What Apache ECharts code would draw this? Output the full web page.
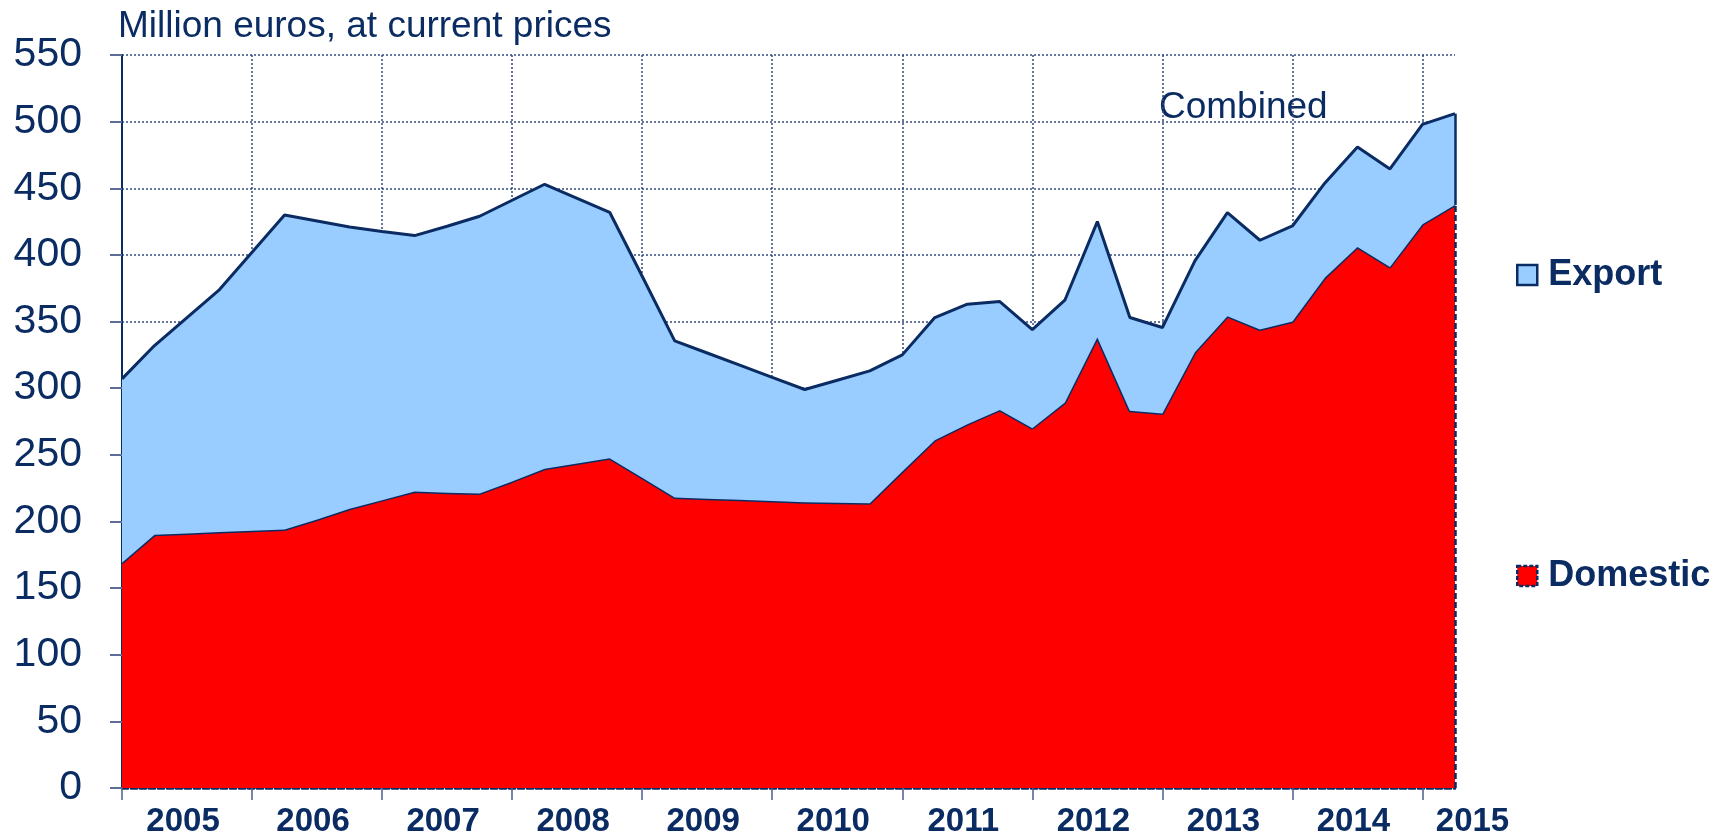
<!DOCTYPE html>
<html>
<head>
<meta charset="utf-8">
<script src="https://cdn.jsdelivr.net/npm/echarts@6/dist/echarts.min.js"></script>
<style>
  html, body { margin: 0; padding: 0; background: #ffffff; }
  #chart { width: 1727px; height: 836px; }
</style>
</head>
<body>
<div id="chart"></div>
<script>
const chart = echarts.init(document.getElementById('chart'));

// years shown on the axis, quarterly points from 2005 Q1 to 2015 Q2
const years = ['2005', '2006', '2007', '2008', '2009', '2010', '2011', '2012', '2013', '2014', '2015'];
const quarters = ['Q1', 'Q2', 'Q3', 'Q4'];

const domestic = [169, 190, 191, 192, 193, 194, 201.5, 209.5, 216, 222.5,
  221.5, 221, 230, 239.5, 243.5, 247.5, 232.8, 218, 217.1, 216.2,
  215.4, 214.5, 214.1, 213.7, 237.4, 261, 273, 283.7, 270, 289.2,
  338, 283, 281, 327, 354, 344, 350, 383, 406, 391,
  423, 437.5];

const exportValues = [138, 142, 162, 182, 209, 236, 224, 211.5, 201.5, 192,
  200, 208, 211, 213.5, 199, 184.5, 151.2, 117.5, 109.3, 101.1,
  92.7, 84.5, 91.9, 99.3, 87.6, 92, 90, 81.3, 74, 76.8,
  87, 70, 64.5, 68.5, 77.7, 67, 71.7, 71, 75, 73.5,
  75, 68.5];

const categories = [];
years.forEach(function (y) {
  quarters.forEach(function (q) {
    if (categories.length < domestic.length) categories.push(y + ' ' + q);
  });
});

const navy = '#0B2C63';
const font = 'Liberation Sans, Arial, sans-serif';
const lastIdx = categories.length - 1;

const option = {
  animation: false,
  grid: { left: 122, right: 272, top: 55, bottom: 48, outerBoundsMode: 'none' },
  graphic: [
    {
      type: 'text', left: 118, top: 8,
      style: { text: 'Million euros, at current prices', fill: navy, fontSize: 37, fontFamily: font }
    },
    {
      type: 'text', left: 1159, top: 89,
      style: { text: 'Combined', fill: navy, fontSize: 37, fontFamily: font }
    }
  ],
  legend: [
    {
      left: 1511, top: 252, orient: 'vertical', selectedMode: false,
      itemWidth: 20, itemHeight: 20,
      textStyle: { color: navy, fontSize: 36, fontWeight: 'bold', fontFamily: font, padding: [0, 0, 0, 6] },
      data: [{ name: 'Export', icon: 'rect',
        itemStyle: { color: '#99CCFF', borderColor: navy, borderWidth: 2.5 } }]
    },
    {
      left: 1511, top: 553, orient: 'vertical', selectedMode: false,
      itemWidth: 20, itemHeight: 20,
      textStyle: { color: navy, fontSize: 36, fontWeight: 'bold', fontFamily: font, padding: [0, 0, 0, 6] },
      data: [{ name: 'Domestic', icon: 'rect',
        itemStyle: { color: '#FF0000', borderColor: navy, borderWidth: 2.5, borderType: [4, 2] } }]
    }
  ],
  xAxis: {
    type: 'category',
    data: categories,
    boundaryGap: false,
    axisLine: { lineStyle: { color: navy, width: 2.5, type: [6, 3] } },
    axisTick: {
      length: 12,
      interval: function (i) { return i % 4 === 0; },
      lineStyle: { color: '#4A5F8C', width: 1.5 }
    },
    axisLabel: {
      interval: function (i) { return i % 4 === 2 || i === lastIdx; },
      margin: 17,
      formatter: function (v, i) {
        return i === lastIdx ? '{last|' + v.slice(0, 4) + '}' : '{y|' + v.slice(0, 4) + '}';
      },
      rich: {
        y: { color: navy, fontSize: 33, fontWeight: 'bold', fontFamily: font, padding: [0, 8, 0, 0] },
        last: { color: navy, fontSize: 33, fontWeight: 'bold', fontFamily: font, padding: [0, 0, 0, 35] }
      }
    },
    splitLine: {
      show: true,
      interval: function (i) { return i % 4 === 0 && i > 0; },
      lineStyle: { color: '#33497C', width: 1.5, type: [2, 2] }
    }
  },
  yAxis: {
    type: 'value',
    min: 0,
    max: 550,
    interval: 50,
    axisLine: { show: true, lineStyle: { color: navy, width: 2 } },
    axisTick: { show: true, length: 12, lineStyle: { color: '#5A6E98', width: 2 } },
    axisLabel: { color: navy, fontSize: 41, margin: 40, fontFamily: font },
    splitLine: { lineStyle: { color: '#33497C', width: 1.5, type: [2, 2] } }
  },
  series: [
    {
      name: 'Domestic',
      type: 'line',
      stack: 'total',
      data: domestic,
      symbol: 'none',
      lineStyle: { color: navy, width: 3 },
      itemStyle: { color: '#FF0000' },
      areaStyle: { color: '#FF0000', opacity: 1 },
      markLine: {
        silent: true, symbol: 'none', label: { show: false },
        lineStyle: { color: navy, width: 2.5, type: [6, 3] },
        data: [[
          { coord: [categories[lastIdx], 0] },
          { coord: [categories[lastIdx], domestic[lastIdx]] }
        ]]
      },
      z: 2
    },
    {
      name: 'Export',
      type: 'line',
      stack: 'total',
      data: exportValues,
      symbol: 'none',
      lineStyle: { color: navy, width: 3 },
      itemStyle: { color: '#99CCFF' },
      areaStyle: { color: '#99CCFF', opacity: 1 },
      markLine: {
        silent: true, symbol: 'none', label: { show: false },
        lineStyle: { color: navy, width: 2.5, type: 'solid' },
        data: [[
          { coord: [categories[lastIdx], domestic[lastIdx]] },
          { coord: [categories[lastIdx], domestic[lastIdx] + exportValues[lastIdx]] }
        ]]
      },
      z: 3
    }
  ]
};

chart.setOption(option);
</script>
</body>
</html>
